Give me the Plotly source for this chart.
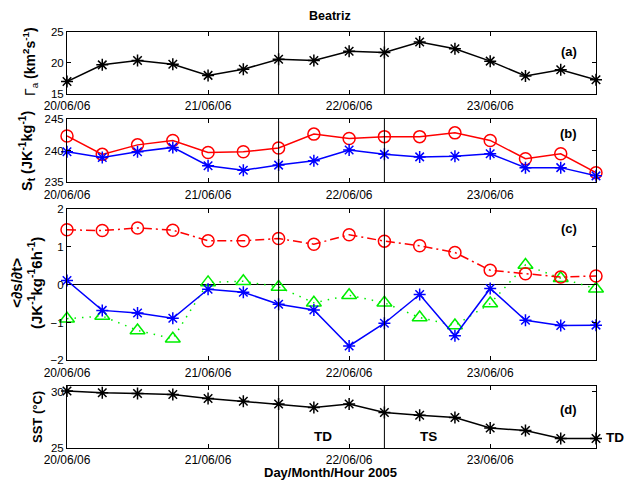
import plotly.graph_objects as go

steps = list(range(16))
tick_vals = [0, 4, 8, 12]
tick_text = ["20/06/06", "21/06/06", "22/06/06", "23/06/06"]

gamma_a = [17.0, 19.7, 20.4, 19.8, 18.0, 19.0, 20.6, 20.4, 21.9, 21.7, 23.4, 22.3, 20.3, 17.9, 18.9, 17.3]
st_red = [242.3, 239.4, 240.9, 241.6, 239.7, 239.8, 240.4, 242.6, 241.9, 242.2, 242.2, 242.8, 241.6, 238.7, 239.5, 236.5]
st_blue = [239.8, 238.9, 239.8, 240.5, 237.6, 236.9, 237.7, 238.4, 240.1, 239.4, 239.0, 239.1, 239.5, 237.3, 237.3, 236.0]
ds_red = [1.45, 1.43, 1.50, 1.44, 1.16, 1.16, 1.22, 1.07, 1.32, 1.15, 1.03, 0.85, 0.38, 0.29, 0.20, 0.23]
ds_blue = [0.11, -0.68, -0.75, -0.89, -0.12, -0.20, -0.52, -0.67, -1.62, -1.02, -0.26, -1.35, -0.10, -0.94, -1.08, -1.07]
ds_green = [-0.90, -0.83, -1.21, -1.43, 0.06, 0.09, -0.06, -0.48, -0.28, -0.48, -0.87, -1.08, -0.50, 0.52, 0.17, -0.11]
sst = [30.06, 29.9, 29.84, 29.75, 29.4, 29.15, 28.9, 28.6, 28.9, 28.15, 27.9, 27.7, 26.77, 26.56, 25.84, 25.84]
stage_lines = [6, 9]

FONT = "Liberation Sans, Arial, sans-serif"
fig = go.Figure()

def add(y, ax, color, symbol, size, dash="solid", width=1.5):
    fig.add_trace(go.Scatter(
        x=steps, y=y, xaxis="x" + ax, yaxis="y" + ax, mode="lines+markers",
        line=dict(color=color, width=width, dash=dash),
        marker=dict(symbol=symbol, size=size, color=color, line=dict(color=color, width=1.5)),
        cliponaxis=False, showlegend=False))

add(gamma_a, "", "black", "asterisk-open", 10)
add(st_red, "2", "red", "circle-open", 12)
add(st_blue, "2", "blue", "asterisk-open", 10)
add(ds_green, "3", "#00ee00", "triangle-up-open", 13, "1.5px,6px", 1.5)
add(ds_red, "3", "red", "circle-open", 12, "9px,4px,2px,4px")
add(ds_blue, "3", "blue", "asterisk-open", 10)
add(sst, "4", "black", "asterisk-open", 10)

domains = {"": [0.851, 1.0], "2": [0.639, 0.791], "3": [0.2108, 0.5745], "4": [0.0, 0.149]}
yranges = {"": [15, 25], "2": [235, 245], "3": [-2, 2], "4": [25, 30.5]}
yticks = {"": [15, 20, 25], "2": [235, 240, 245], "3": [-2, -1, 0, 1, 2], "4": [25, 30]}

layout = dict(
    width=624, height=480, paper_bgcolor="white", plot_bgcolor="white",
    margin=dict(l=67, r=28, t=32, b=32),
    font=dict(family=FONT, size=11.5, color="black"),
)
for ax in ["", "2", "3", "4"]:
    layout["xaxis" + ax] = dict(
        domain=[0, 1], range=[0, 15], anchor="y" + ax,
        tickmode="array", tickvals=tick_vals, ticktext=tick_text,
        ticks="inside", ticklen=4, tickcolor="black", mirror="ticks",
        showline=True, linecolor="black", linewidth=1, showgrid=False, zeroline=False,
        tickfont=dict(size=12), ticklabelstandoff=1)
    layout["yaxis" + ax] = dict(
        domain=domains[ax], range=yranges[ax], anchor="x" + ax,
        tickmode="array", tickvals=yticks[ax],
        ticks="inside", ticklen=4, tickcolor="black", mirror="ticks",
        showline=True, linecolor="black", linewidth=1, showgrid=False,
        zeroline=(ax == "3"), zerolinecolor="black", zerolinewidth=1,
        tickfont=dict(size=11.5))
fig.update_layout(**layout)

shapes = []
for ax in ["", "2", "3", "4"]:
    for xv in stage_lines:
        shapes.append(dict(type="line", xref="x" + ax, yref="y" + ax + " domain",
                           x0=xv, x1=xv, y0=0, y1=1, line=dict(color="black", width=1)))
fig.update_layout(shapes=shapes)

ann = []
def A(text, x, y, size=12, angle=0, xref="paper", yref="paper", **kw):
    ann.append(dict(text=text, x=x, y=y, xref=xref, yref=yref, showarrow=False,
                    xanchor="center", yanchor="middle",
                    textangle=angle, font=dict(size=size, family=FONT, color="black"), **kw))

def px_x(p):
    return (p - 67) / 529.0

def px_y(p):
    return (448 - p) / 416.0

A("<b>Beatriz</b>", px_x(330), px_y(16), 12.5)
A("<b>Day/Month/Hour 2005</b>", px_x(330), px_y(473), 13)
A("Γ<sub>a</sub> <b>(km<sup>2</sup>s<sup>-1</sup>)</b>", px_x(30), px_y(62), 14, -90)
A("<b>S<sub>t</sub> (JK<sup>-1</sup>kg<sup>-1</sup>)</b>", px_x(27), px_y(151), 14.5, -90)
A("<b>&lt;∂s/∂t&gt;</b><br><b>(JK<sup>-1</sup>kg<sup>-1</sup>6h<sup>-1</sup>)</b>", px_x(26), px_y(283), 15, -90)
A("<b>SST (°C)</b>", px_x(37), px_y(417), 13, -90)

A("<b>(a)</b>", 14.23, 21.8, 13, xref="x", yref="y")
A("<b>(b)</b>", 14.23, 242.65, 13, xref="x2", yref="y2")
A("<b>(c)</b>", 14.23, 1.49, 13, xref="x3", yref="y3")
A("<b>(d)</b>", 14.23, 28.4, 13, xref="x4", yref="y4")
A("<b>TD</b>", 7.26, 25.98, 13.5, xref="x4", yref="y4")
A("<b>TS</b>", 10.24, 25.98, 13.5, xref="x4", yref="y4")
A("<b>TD</b>", px_x(615), px_y(437), 13.5)
fig.update_layout(annotations=ann)

fig.write_html("out.html")
